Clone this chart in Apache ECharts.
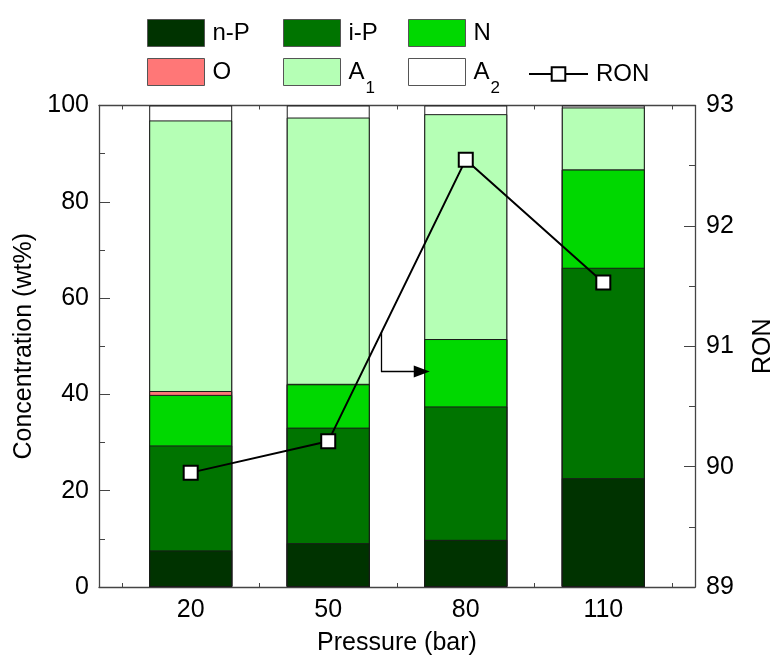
<!DOCTYPE html>
<html>
<head>
<meta charset="utf-8">
<script src="https://cdn.jsdelivr.net/npm/echarts@6/dist/echarts.min.js"></script>
<style>html,body{margin:0;padding:0;background:#fff;}#c{width:774px;height:657px;}</style>
</head>
<body>
<div id="c"></div>
<script>
// Data
const pressures = [20, 50, 80, 110];
const nP = [7.6, 9.1, 9.8, 22.6];
const iP = [21.8, 24.0, 27.7, 43.7];
const N  = [10.5, 9.0, 14.0, 20.4];
const O  = [0.8, 0.1, 0.0, 0.0];
const A1 = [56.2, 55.3, 46.7, 12.9];
const A2 = [3.1, 2.5, 1.8, 0.4];
const RON = [89.95, 90.21, 92.55, 91.53];
const xTickValues = [5, 20, 35, 50, 65, 80, 95, 110, 125];
const xLabelValues = [20, 50, 80, 110];

const FONT = 'Liberation Sans, Arial, sans-serif';
const axisColor = '#444';
const AXFS = 25;

const comps = [
  {name: 'n-P', data: nP, color: '#003300'},
  {name: 'i-P', data: iP, color: '#007400'},
  {name: 'N', data: N, color: '#00D800'},
  {name: 'O', data: O, color: '#FF7777'},
  {name: 'A1', data: A1, color: '#B5FFB5'},
  {name: 'A2', data: A2, color: '#FFFFFF'}
];
// cumulative tops (stacking done here)
const running = pressures.map(() => 0);
comps.forEach(c => {
  c.top = c.data.map((v, i) => (running[i] += v));
});
const barSeries = comps.slice().reverse().map(c => ({
  name: c.name,
  type: 'bar',
  xAxisIndex: 0,
  yAxisIndex: 0,
  barWidth: 83,
  barGap: '-100%',
  data: c.top.map((v, i) => [pressures[i], v]),
  itemStyle: {color: c.color, borderColor: '#1a1a1a', borderWidth: 1},
  emphasis: {disabled: true},
  silent: true
}));

const lineSeries = {
  name: 'RON',
  type: 'line',
  xAxisIndex: 0,
  yAxisIndex: 1,
  data: RON.map((v, i) => [pressures[i], v]),
  symbol: 'rect',
  symbolSize: 14,
  itemStyle: {color: '#fff', borderColor: '#000', borderWidth: 2},
  lineStyle: {color: '#000', width: 2},
  z: 10,
  silent: true,
  markLine: {
    silent: true,
    animation: false,
    label: {show: false},
    lineStyle: {color: '#000', width: 1.3, type: 'solid'},
    data: [
      [{coord: [61.5, 91.12], symbol: 'none'}, {coord: [61.5, 90.79], symbol: 'none'}],
      [{coord: [61.5, 90.79], symbol: 'none'}, {coord: [70.4, 90.79], symbol: 'triangle', symbolSize: [12, 16]}]
    ]
  }
};

const rich = {
  a: {fontSize: 24, fontFamily: FONT, color: '#000', lineHeight: 30},
  s: {fontSize: 17, fontFamily: FONT, color: '#000', lineHeight: 30, verticalAlign: 'bottom', padding: [0,0,-10,1]}
};
function mkLegend(name, left, top, opts) {
  return Object.assign({
    data: [name],
    left: left,
    top: top,
    padding: 0,
    icon: 'rect',
    itemWidth: 57,
    itemHeight: 27,
    itemGap: 0,
    selectedMode: false,
    textStyle: {fontSize: 24, fontFamily: FONT, color: '#000', padding: [0,0,0,3], rich: rich},
    formatter: function (n) {
      if (n === 'A1') return '{a|A}{s|1}';
      if (n === 'A2') return '{a|A}{s|2}';
      return n;
    },
    itemStyle: {borderColor: '#555', borderWidth: 1}
  }, opts || {});
}

const option = {
  animation: false,
  backgroundColor: '#fff',
  textStyle: {fontFamily: FONT},
  grid: {left: 99, right: 79, top: 105.5, bottom: 70, outerBoundsMode: 'none', containLabel: false},
  legend: [
    mkLegend('n-P', 147, 19),
    mkLegend('i-P', 283, 19),
    mkLegend('N', 408, 19),
    mkLegend('O', 147, 58),
    mkLegend('A1', 283, 58),
    mkLegend('A2', 408, 58),
    mkLegend('RON', 528, 62, {icon: null, itemWidth: 59, itemHeight: 17, itemStyle: {}})
  ],
  xAxis: [
    {
      type: 'value', position: 'bottom', min: 0, max: 130,
      name: 'Pressure (bar)', nameLocation: 'middle', nameGap: 44,
      nameTextStyle: {fontSize: AXFS, fontFamily: FONT, color: '#000'},
      axisLine: {show: true, onZero: false, lineStyle: {color: axisColor, width: 1.3}},
      axisTick: {show: true, inside: true, length: 4, customValues: xTickValues, lineStyle: {color: axisColor}},
      axisLabel: {show: true, customValues: xLabelValues, fontSize: AXFS, fontFamily: FONT, color: '#000', margin: 11},
      splitLine: {show: false}
    },
    {
      type: 'value', position: 'top', min: 0, max: 130,
      axisLine: {show: true, onZero: false, lineStyle: {color: axisColor, width: 1.3}},
      axisTick: {show: true, inside: true, length: 4, customValues: xTickValues, lineStyle: {color: axisColor}},
      axisLabel: {show: false},
      splitLine: {show: false}
    }
  ],
  yAxis: [
    {
      type: 'value', position: 'left', min: 0, max: 100, interval: 20,
      name: 'Concentration (wt%)', nameLocation: 'middle', nameGap: 62,
      nameTextStyle: {fontSize: AXFS, fontFamily: FONT, color: '#000'},
      axisLine: {show: true, onZero: false, lineStyle: {color: axisColor, width: 1.3}},
      axisTick: {show: true, inside: true, length: 11, lineStyle: {color: axisColor}},
      minorTick: {show: true, splitNumber: 2, length: 6, lineStyle: {color: axisColor}},
      axisLabel: {fontSize: AXFS, fontFamily: FONT, color: '#000', margin: 10},
      splitLine: {show: false}
    },
    {
      type: 'value', position: 'right', min: 89, max: 93, interval: 1,
      name: 'RON', nameLocation: 'middle', nameGap: 56,
      nameTextStyle: {fontSize: AXFS, fontFamily: FONT, color: '#000'},
      axisLine: {show: true, onZero: false, lineStyle: {color: axisColor, width: 1.3}},
      axisTick: {show: true, inside: true, length: 11, lineStyle: {color: axisColor}},
      minorTick: {show: true, splitNumber: 2, length: 6, lineStyle: {color: axisColor}},
      axisLabel: {fontSize: AXFS, fontFamily: FONT, color: '#000', margin: 11},
      splitLine: {show: false}
    }
  ],
  series: barSeries.concat([lineSeries])
};

const chart = echarts.init(document.getElementById('c'), null, {renderer: 'canvas'});
chart.setOption(option);
</script>
</body>
</html>
